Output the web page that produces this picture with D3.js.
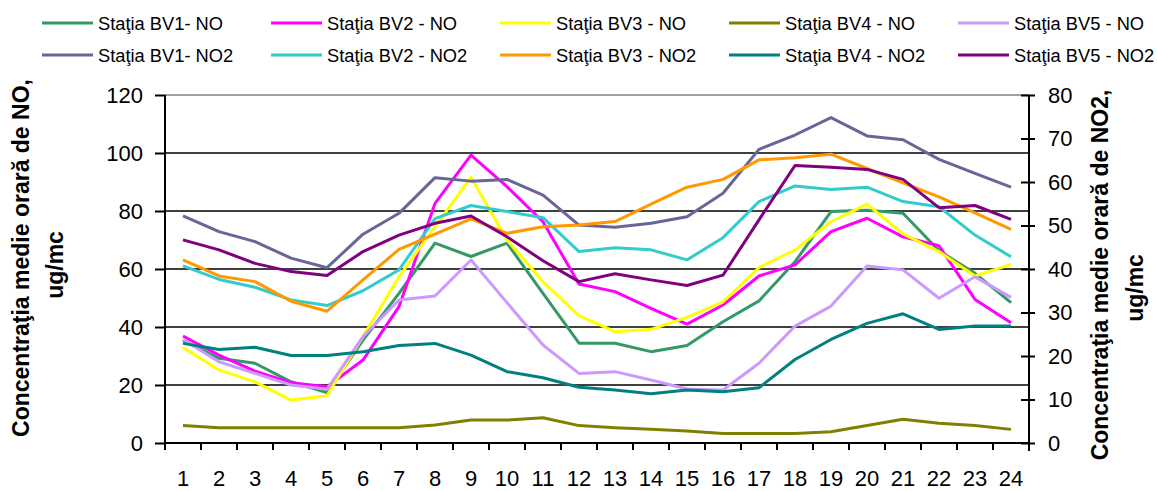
<!DOCTYPE html>
<html><head><meta charset="utf-8">
<script src="https://cdn.jsdelivr.net/npm/d3@7"></script>
<style>body{margin:0;background:#fff}svg{display:block}</style>
</head><body>
<svg id="c" width="1157" height="491"></svg>
<script>
const hours = d3.range(1, 25).map(String);
const leftTicks = [0, 20, 40, 60, 80, 100, 120];
const rightTicks = [0, 10, 20, 30, 40, 50, 60, 70, 80];

// NO series (left axis)
const bv1NO = [35.5,29.2,27.5,21.1,17.4,35.5,51.6,68.9,64.3,68.9,51.6,34.4,34.4,31.5,33.6,41.8,49,62.5,79.8,80.3,79.2,66.3,58.5,48.4];
const bv2NO = [36.9,30.3,24.8,20.8,19.4,28.6,47,82.6,99.3,88.4,76.3,54.8,52.2,46.4,41,47.6,57.6,61.4,72.9,77.5,71.1,68,49.5,41.5];
const bv3NO = [32.9,25.2,21.1,14.8,16.3,36.7,57.3,74.6,91.6,70,55.6,43.9,38.4,39.2,43.3,48.7,60.5,66.6,76.3,82.4,72.1,66,57.6,61.6];
const bv4NO = [6,5.3,5.3,5.3,5.3,5.3,5.3,6.2,7.9,7.9,8.7,6,5.3,4.7,4.1,3.3,3.3,3.3,3.9,6,8.2,6.8,6,4.7];
const bv5NO = [35.7,28,24,20,18.5,36.7,49.3,50.7,63.1,48.4,33.8,24,24.6,21.7,18.6,18.3,27.5,40.3,47.2,61,59.7,49.9,57.3,50.2];
// NO2 series (right axis)
const bv1NO2 = [52.2,48.6,46.3,42.5,40.3,48,52.8,61,60.2,60.6,57,50.1,49.6,50.5,52,57.4,67.5,70.8,74.8,70.6,69.7,65.2,62,58.8];
const bv2NO2 = [40.7,37.6,35.8,32.9,31.6,35,39.8,51.6,54.6,53.2,51.8,44,44.9,44.4,42.1,47.2,55.5,59.1,58.3,58.8,55.5,54.3,47.8,42.8];
const bv3NO2 = [42.1,38.4,37.1,32.6,30.3,37.5,44.5,48,51.5,48.2,49.7,50.1,50.9,54.9,58.8,60.6,65.1,65.6,66.4,63.1,59.8,56.6,52.9,49.1];
const bv4NO2 = [22.9,21.5,22,20.1,20.1,21,22.4,22.9,20.2,16.4,15,12.8,12.2,11.3,12.2,11.8,12.7,19.2,23.8,27.5,29.7,26.1,26.9,26.9];
const bv5NO2 = [46.7,44.4,41.3,39.4,38.5,44,47.8,50.5,52.2,47.4,41.9,37.1,38.9,37.5,36.2,38.6,51.3,63.8,63.4,62.9,60.6,54.1,54.6,51.4];

const seriesNames = ["Staţia BV1- NO","Staţia BV2 - NO","Staţia BV3 - NO","Staţia BV4 - NO","Staţia BV5 - NO",
                     "Staţia BV1- NO2","Staţia BV2 - NO2","Staţia BV3 - NO2","Staţia BV4 - NO2","Staţia BV5 - NO2"];
const seriesValues = [bv1NO,bv2NO,bv3NO,bv4NO,bv5NO,bv1NO2,bv2NO2,bv3NO2,bv4NO2,bv5NO2];
const seriesAxis = ["L","L","L","L","L","R","R","R","R","R"];
const colors = ["#339966","#ff00ff","#ffff00","#808000","#cc99ff","#666699","#33cccc","#ff9900","#008080","#800080"];
const leftTitle = ["Concentraţia medie orară de NO,", "ug/mc"];
const rightTitle = ["Concentraţia medie orară de NO2,", "ug/mc"];

const FONT = "'Liberation Sans', Arial, sans-serif";
const svg = d3.select("#c");
const L = 165, R = 1029, T = 95, B = 443;

const x = d3.scaleBand().domain(hours).range([L, R]);
const yL = d3.scaleLinear().domain([0, 120]).range([B, T]);
const yR = d3.scaleLinear().domain([0, 80]).range([B, T]);

// gridlines
svg.append("g").selectAll("line").data(leftTicks.filter(v => v > 0)).join("line")
  .attr("x1", L).attr("x2", R).attr("y1", d => yL(d)).attr("y2", d => yL(d))
  .attr("stroke", d => d === 120 ? "#808080" : "#000").attr("stroke-width", 1.5);

// lines
const line = (sc) => d3.line().x((d, i) => x(hours[i]) + x.bandwidth() / 2).y(d => sc(d));
const gl = svg.append("g");
seriesValues.forEach((vals, k) => {
  gl.append("path").attr("d", line(seriesAxis[k] === "L" ? yL : yR)(vals))
    .attr("fill", "none").attr("stroke", colors[k]).attr("stroke-width", 3)
    .attr("stroke-linejoin", "round");
});

// left axis
const ax = svg.append("g").attr("transform", `translate(${L},0)`)
  .call(d3.axisLeft(yL).tickValues(leftTicks).tickSize(10).tickPadding(12));
ax.select(".domain").attr("d", `M0,${T}V${B + 7}`).attr("stroke", "#000").attr("stroke-width", 2);
ax.selectAll(".tick line").attr("stroke", "#000").attr("stroke-width", 2);
ax.selectAll("text").attr("font-family", FONT).attr("font-size", 22).attr("fill", "#000");

// right axis
const ar = svg.append("g").attr("transform", `translate(${R},0)`)
  .call(d3.axisRight(yR).tickValues(rightTicks).tickSize(6).tickPadding(13));
ar.select(".domain").attr("d", `M0,${T}V${B + 8}`).attr("stroke", "#000").attr("stroke-width", 2);
ar.selectAll(".tick line").attr("x1", -8).attr("stroke", "#000").attr("stroke-width", 2);
ar.selectAll("text").attr("font-family", FONT).attr("font-size", 22).attr("fill", "#000");

// bottom axis
const ab = svg.append("g").attr("transform", `translate(0,${B})`)
  .call(d3.axisBottom(x).tickSize(0).tickPadding(27));
ab.select(".domain").attr("d", `M${L},0H${R}`).attr("stroke", "#000").attr("stroke-width", 2);
ab.selectAll("text").attr("font-family", FONT).attr("font-size", 22).attr("fill", "#000");
ab.append("g").selectAll("line").data(hours.slice(1)).join("line")
  .attr("x1", d => x(d)).attr("x2", d => x(d)).attr("y1", 0).attr("y2", 7)
  .attr("stroke", "#000").attr("stroke-width", 2);

// axis titles
const lt = svg.append("g").attr("font-family", FONT).attr("font-weight", "bold").attr("font-size", 23).attr("fill", "#000");
lt.append("text").attr("transform", "translate(21,258) rotate(-90)").attr("text-anchor", "middle").attr("dominant-baseline", "central").text(leftTitle[0]);
lt.append("text").attr("transform", "translate(55,265) rotate(-90)").attr("text-anchor", "middle").attr("dominant-baseline", "central").text(leftTitle[1]);
lt.append("text").attr("transform", "translate(1100,275) rotate(-90)").attr("text-anchor", "middle").attr("dominant-baseline", "central").text(rightTitle[0]);
lt.append("text").attr("transform", "translate(1135,288) rotate(-90)").attr("text-anchor", "middle").attr("dominant-baseline", "central").text(rightTitle[1]);

// legend
const lg = svg.append("g").attr("font-family", FONT).attr("font-size", 18.3);
seriesNames.forEach((n, k) => {
  const col = k % 5, row = Math.floor(k / 5);
  const x0 = 42 + col * 229, y0 = 23 + row * 32;
  lg.append("line").attr("x1", x0).attr("x2", x0 + 51).attr("y1", y0).attr("y2", y0)
    .attr("stroke", colors[k]).attr("stroke-width", 3);
  lg.append("text").attr("x", x0 + 56).attr("y", y0).attr("dominant-baseline", "central").text(n);
});
</script>
</body></html>
